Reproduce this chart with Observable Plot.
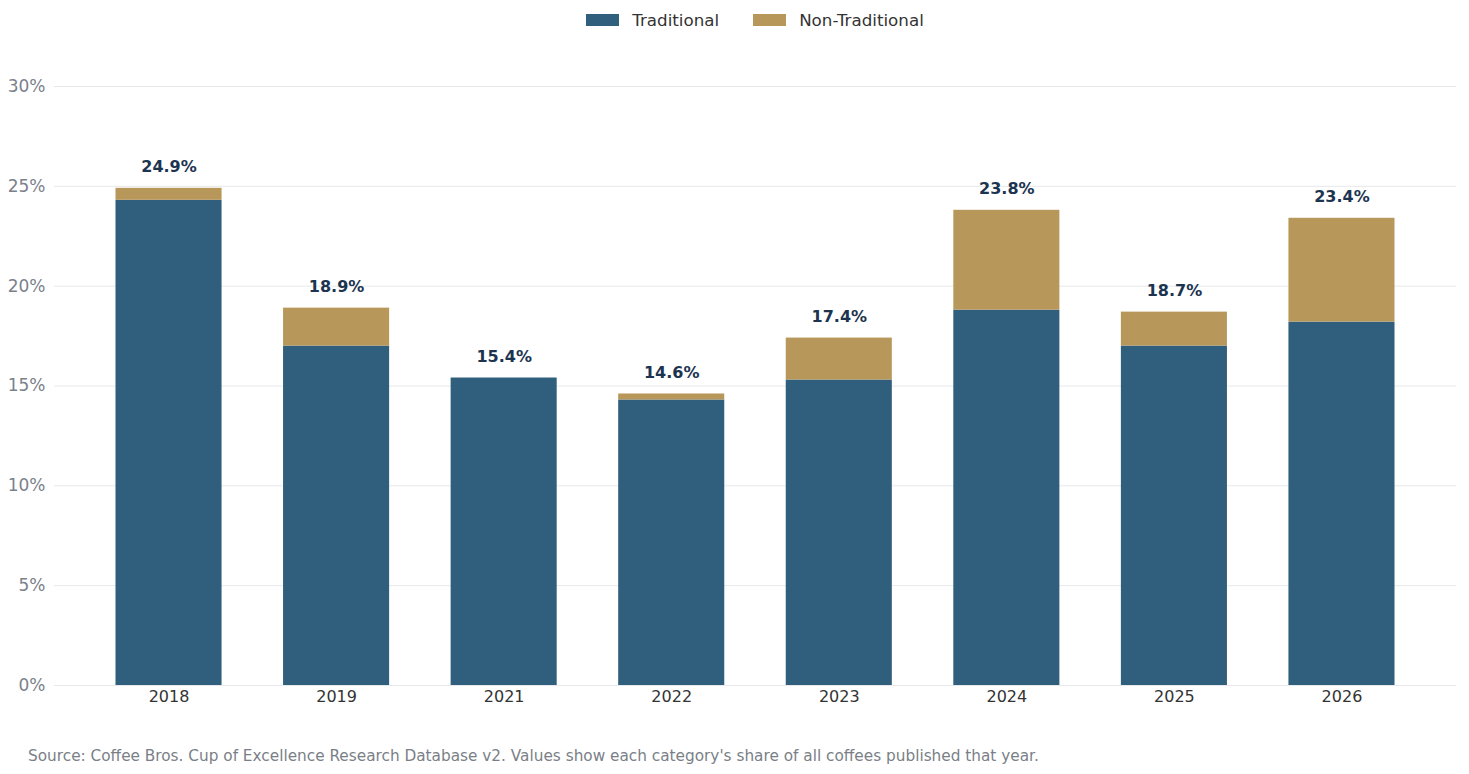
<!DOCTYPE html>
<html><head><meta charset="utf-8">
<script src="https://cdn.jsdelivr.net/npm/d3@7"></script>
<script src="https://cdn.jsdelivr.net/npm/@observablehq/plot@0.6"></script>
<style>
body{margin:0;background:#fff;font-family:"DejaVu Sans",sans-serif;width:1469px;}
#legend{height:40px;box-sizing:border-box;padding-left:54px;padding-right:13px;display:flex;justify-content:center;align-items:center;gap:34px;font-size:16.7px;color:#333;}
.item{display:flex;align-items:center;gap:13px}
.sw{width:33px;height:12px;display:inline-block}
#chart svg{display:block}
#caption{font-size:15.3px;color:#7a7f87;padding-left:28px;margin-top:17px;}
</style></head>
<body>
<div id="legend"></div>
<div id="chart"></div>
<div id="caption">Source: Coffee Bros. Cup of Excellence Research Database v2. Values show each category's share of all coffees published that year.</div>
<script>
const years = ["2018","2019","2021","2022","2023","2024","2025","2026"];
const traditional = [24.3,17.0,15.4,14.3,15.3,18.8,17.0,18.2];
const nonTraditional = [0.6,1.9,0.0,0.3,2.1,5.0,1.7,5.2];
const seriesNames = ["Traditional","Non-Traditional"];
const seriesColors = ["#2f5f7c","#b8985a"];
const yTicks = [0,5,10,15,20,25,30];

const rows = [];
years.forEach((yr,i)=>{
  rows.push({year:yr, series:seriesNames[0], value:traditional[i]});
  rows.push({year:yr, series:seriesNames[1], value:nonTraditional[i]});
});
const totals = years.map((yr,i)=>({year:yr, total:+(traditional[i]+nonTraditional[i]).toFixed(1)}));

const legend = document.getElementById("legend");
seriesNames.forEach((n,i)=>{
  const it = document.createElement("div"); it.className="item";
  const sw = document.createElement("span"); sw.className="sw"; sw.style.background=seriesColors[i];
  const t = document.createElement("span"); t.textContent=n;
  it.append(sw,t); legend.append(it);
});

const plot = Plot.plot({
  width:1469, height:690,
  marginTop:46, marginBottom:45, marginLeft:54, marginRight:13,
  style:{fontFamily:"DejaVu Sans, sans-serif", fontSize:"16px", background:"#fff"},
  x:{domain:years, padding:0.367, round:false, label:null},
  y:{domain:[0,30], label:null},
  color:{domain:seriesNames, range:seriesColors},
  marks:[
    Plot.gridY(yTicks,{stroke:"#e6e8eb", strokeOpacity:1}),
    Plot.barY(rows,{x:"year", y:"value", fill:"series", order:seriesNames}),
    Plot.text(totals,{x:"year", y:"total", text:d=>d.total.toFixed(1)+"%", dy:-16, lineAnchor:"bottom", fontWeight:"bold", fontSize:16, fill:"#1c3450"}),
    Plot.axisY(yTicks,{tickSize:0, tickPadding:9, tickFormat:d=>d+"%", fontSize:17, color:"#7a818b", label:null}),
    Plot.axisX({tickSize:0, tickPadding:5, fontSize:16, color:"#333", label:null})
  ]
});
document.getElementById("chart").append(plot);
</script>
</body></html>
